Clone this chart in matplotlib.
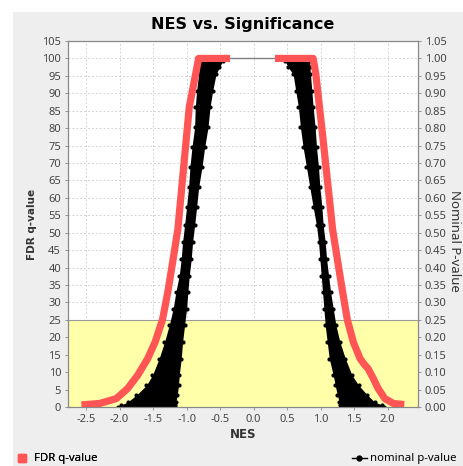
import matplotlib
matplotlib.use("Agg")
import matplotlib.pyplot as plt
from matplotlib.patches import Rectangle
from matplotlib.lines import Line2D

plt.rcParams["font.family"] = ["Noto Sans", "DejaVu Sans"]
plt.rcParams["axes.unicode_minus"] = False

# Nominal p-value band edges (p, outer NES, inner NES) for negative and positive NES
p_levels = [0.993, 0.974, 0.955, 0.907, 0.86, 0.802, 0.745, 0.688, 0.63, 0.573,
            0.521, 0.473, 0.425, 0.377, 0.33, 0.282, 0.234, 0.186, 0.139, 0.091,
            0.062, 0.034, 0.014, 0.006, 0.0]
neg_outer = [-0.83, -0.81, -0.82, -0.85, -0.87, -0.88, -0.92, -0.95, -0.97, -1.00,
             -1.03, -1.06, -1.08, -1.11, -1.16, -1.20, -1.26, -1.33, -1.41, -1.51,
             -1.60, -1.75, -1.88, -1.98, -2.02]
neg_inner = [-0.46, -0.51, -0.56, -0.61, -0.65, -0.68, -0.73, -0.77, -0.82, -0.85,
             -0.88, -0.91, -0.93, -0.96, -0.98, -1.00, -1.03, -1.06, -1.08, -1.11,
             -1.12, -1.14, -1.16, -1.17, -1.18]
pos_inner = [0.47, 0.52, 0.59, 0.63, 0.67, 0.70, 0.74, 0.79, 0.84, 0.89,
             0.94, 0.97, 0.99, 1.01, 1.03, 1.05, 1.07, 1.10, 1.13, 1.19,
             1.22, 1.25, 1.28, 1.29, 1.30]
pos_outer = [0.84, 0.84, 0.85, 0.87, 0.89, 0.92, 0.94, 0.97, 0.99, 1.02,
             1.04, 1.07, 1.09, 1.12, 1.15, 1.19, 1.23, 1.29, 1.37, 1.47,
             1.57, 1.70, 1.81, 1.92, 1.94]
p_top_nes = [-0.85, -0.46, 0.47]
p_top_val = [1.0, 1.0, 1.0]

# FDR q-value (percent) curves
fdr_neg_nes = [-2.57, -2.30, -2.05, -1.88, -1.73, -1.58, -1.47, -1.36, -1.28, -1.20,
               -1.13, -0.96, -0.82, -0.35]
fdr_neg_q = [0.6, 1.0, 2.4, 5.3, 9.1, 13.9, 18.6, 25.0, 33.0, 42.5, 51.0, 86.0, 100.0, 100.0]
fdr_pos_nes = [0.32, 0.89, 0.93, 1.04, 1.18, 1.25, 1.33, 1.40, 1.49, 1.59, 1.65, 1.71,
               1.79, 1.86, 1.96, 2.09, 2.25]
fdr_pos_q = [100.0, 100.0, 95.5, 76.4, 51.0, 42.5, 33.0, 25.0, 18.6, 13.9, 12.3, 11.0,
             8.1, 5.3, 2.4, 1.0, 0.7]

nes_ticks = [-2.5, -2.0, -1.5, -1.0, -0.5, 0.0, 0.5, 1.0, 1.5, 2.0]
fdr_ticks = list(range(0, 106, 5))
p_ticks = [t / 100 for t in fdr_ticks]
fdr_highlight = 25

W, H = 464, 466
fig = plt.figure(figsize=(W / 100, H / 100), dpi=100, facecolor="white")
fig.add_artist(Rectangle((13 / W, 0), 1, (H - 12) / H, transform=fig.transFigure,
                         facecolor="#EEEEEE", edgecolor="none", zorder=0))

L, R, T, B = 68, 418, 41, 407
rect = [L / W, 1 - B / H, (R - L) / W, (B - T) / H]
axp = fig.add_axes(rect)
axp.set_facecolor("white")
axq = axp.twinx()
axq.patch.set_visible(False)

axp.set_xlim(-2.77, 2.455)
axp.set_ylim(0, 1.05)
axq.set_ylim(0, 105)

# grid, highlight region
axp.set_xticks(nes_ticks)
axp.set_yticks(p_ticks)
axp.grid(True, color="#D4D4D4", linestyle=(0, (2, 2)), linewidth=0.7)
axp.set_axisbelow(True)
axp.axhspan(0, fdr_highlight / 100, facecolor="#FFFFAA", edgecolor="none", zorder=0.8)
axp.axhline(fdr_highlight / 100, color="#999999", linewidth=0.8, zorder=0.9)

# nominal p-value band
axp.fill_betweenx(p_levels, neg_outer, neg_inner, color="black", linewidth=0, zorder=2)
axp.fill_betweenx(p_levels, pos_inner, pos_outer, color="black", linewidth=0, zorder=2)
for xs in (neg_outer, neg_inner, pos_inner, pos_outer):
    axp.scatter(xs, p_levels, s=9, color="black", linewidths=0, zorder=2)
axp.plot(p_top_nes, p_top_val, color="#808080", linewidth=1.0, zorder=1.9)
axp.scatter(p_top_nes[:1], p_top_val[:1], s=12, color="black", linewidths=0, zorder=2)

# FDR q-value curves
red = "#FF5555"
for xs, ys in ((fdr_neg_nes, fdr_neg_q), (fdr_pos_nes, fdr_pos_q)):
    axq.plot(xs, ys, color=red, linewidth=5.2, solid_joinstyle="round",
             solid_capstyle="butt", zorder=3)

# axes styling
for ax in (axp, axq):
    for s in ax.spines.values():
        s.set_color("#888888")
        s.set_linewidth(0.8)
axp.yaxis.tick_right()
axq.yaxis.tick_left()
axp.set_yticklabels([f"{v:.2f}" for v in p_ticks])
axq.set_yticks(fdr_ticks)
axq.set_yticklabels([str(v) for v in fdr_ticks])
axp.set_xticklabels([f"{v:.1f}" for v in nes_ticks])
for ax in (axp, axq):
    ax.tick_params(axis="both", length=2.5, width=0.6, color="#888888",
                   labelsize=8, labelcolor="#444444", pad=2.5)

bold = ["DejaVu Sans"]
fig.text((L + R) / 2 / W, 1 - 25 / H, "NES vs. Significance", ha="center", va="center",
         fontsize=11.5, fontweight="bold", family=bold, color="black")
fig.text((L + R) / 2 / W, 1 - 435 / H, "NES", ha="center", va="center",
         fontsize=8.5, fontweight="bold", family=bold, color="#333333")
fig.text(32 / W, 1 - 224 / H, "FDR q-value", ha="center", va="center", rotation=90,
         fontsize=7.5, fontweight="bold", family=bold, color="#333333")
fig.text(455 / W, 1 - 241 / H, "Nominal P-value", ha="center", va="center", rotation=-90,
         fontsize=9.5, color="#333333")

# legend items
h_fdr = Line2D([], [], linestyle="none", marker="s", markersize=5.5,
               markerfacecolor=red, markeredgecolor=red)
h_p = Line2D([], [], color="black", linewidth=1, marker="o", markersize=3.5)
leg1 = fig.legend(handles=[h_fdr], labels=["FDR q-value"], loc="center left",
                  bbox_to_anchor=(16 / W, 1 - 459 / H), frameon=False, fontsize=8.2,
                  handlelength=1.0, handletextpad=0.6, borderpad=0, borderaxespad=0)
leg2 = fig.legend(handles=[h_p], labels=["nominal p-value"], loc="center left",
                  bbox_to_anchor=(352 / W, 1 - 459 / H), frameon=False, fontsize=8.2,
                  handlelength=1.3, handletextpad=0.3, borderpad=0, borderaxespad=0)
fig.add_artist(leg1)

fig.savefig("out.png", dpi=100, facecolor=fig.get_facecolor())
